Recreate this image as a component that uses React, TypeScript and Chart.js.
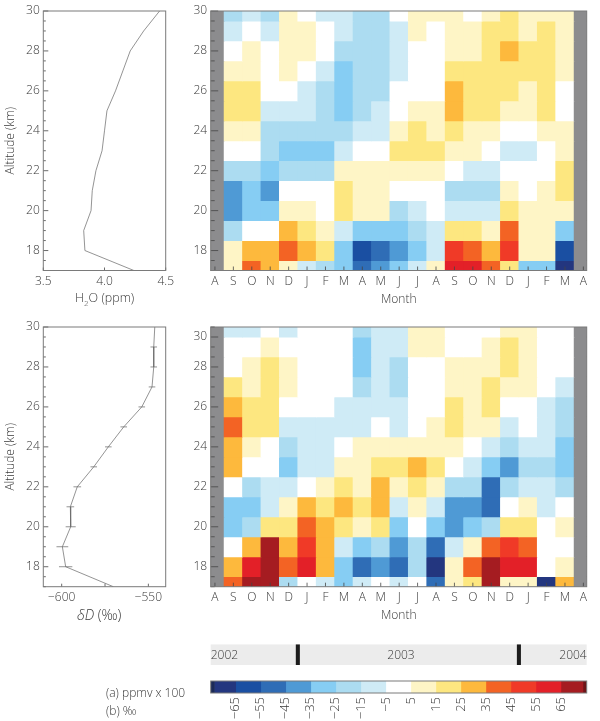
import React, { useEffect, useRef } from "react";
import { Chart, registerables } from "chart.js";

Chart.register(...registerables);

const months = ["A", "S", "O", "N", "D", "J", "F", "M", "A", "M", "J", "J", "A", "S", "O", "N", "D", "J", "F", "M", "A"];
const altitudes = [30, 29, 28, 27, 26, 25, 24, 23, 22, 21, 20, 19, 18, 17];

const h2oGrid = [
  [-20, -10, -20, 10, 0, -10, -10, -20, -20, 0, 10, 10, 10, 0, 10, 20, 10, 10, 10],
  [-10, 0, -10, 10, 10, 0, -10, -20, -20, -10, 10, 0, 10, 10, 20, 20, 10, 20, 10],
  [0, 10, 0, 10, 10, 0, -20, -20, -20, -10, 0, 0, 10, 10, 20, 30, 20, 20, 10],
  [10, 10, 0, 10, 0, -10, -30, -20, -20, -10, 0, 0, 20, 20, 20, 20, 20, 20, 10],
  [20, 20, 0, 0, -10, -20, -30, -20, -20, 0, 0, 0, 30, 20, 20, 20, 10, 20, 0],
  [20, 20, -10, -10, -10, -20, -30, -20, -10, 0, 10, 10, 30, 20, 20, 10, 10, 20, 0],
  [10, 10, -20, -20, -20, -20, -20, -10, -10, 10, 20, 10, 20, 10, 10, 0, 0, 10, 10],
  [0, 0, -20, -30, -30, -30, -10, 0, 0, 20, 20, 20, 10, 10, 0, -10, -10, 0, 10],
  [-20, -20, -30, -20, -20, -20, 10, 10, 10, 10, 10, 10, 0, -10, -10, 0, 0, 0, 20],
  [-40, -30, -40, 0, 0, 0, 20, 10, 10, 0, 0, 0, -20, -20, -20, 10, 0, 10, 20],
  [-40, -30, -30, 10, 10, 0, 20, 10, 10, -20, -10, 0, -10, -10, -10, 20, 10, 10, 10],
  [-20, 0, 0, 30, 20, 10, -10, -30, -30, -30, -20, -10, 20, 20, 10, 40, 10, 10, -30],
  [10, 30, 30, 40, 30, 20, -30, -60, -50, -40, -30, -10, 50, 40, 30, 50, 10, 10, -60],
  [10, 40, 30, 10, -10, -20, -30, -50, -40, -30, -10, 10, 60, 60, 40, 20, -30, -30, -70],
];

const deltaGrid = [
  [-10, -10, 0, -10, 0, 0, 0, -20, -10, -10, 10, 10, 0, 0, 0, 10, 10, 0, 0],
  [0, 0, 10, 0, 0, 0, 0, -30, -10, -10, 10, 10, 0, 0, 10, 20, 10, 0, 0],
  [0, 10, 20, 10, 0, 0, 0, -30, -10, -20, 0, 0, 10, 10, 10, 20, 10, 0, 0],
  [20, 10, 20, 10, 0, 0, 0, -20, -10, -20, 0, 0, 10, 10, 20, 10, 10, 0, -10],
  [30, 20, 20, 0, 0, 0, -10, -10, -10, -10, 0, 0, 20, 10, 20, 0, 0, -10, -20],
  [40, 20, 20, -10, -10, -10, -10, -10, 0, -10, 0, 10, 20, 10, 10, -10, 0, -10, -20],
  [30, 10, 0, -20, -10, -10, 0, 10, 10, 10, 10, 10, 10, 0, -10, -20, -10, -10, -30],
  [30, 0, 0, -30, -10, -10, 10, 10, 20, 20, 30, 20, 0, -10, -30, -40, -20, -20, -30],
  [0, -20, -10, -10, 0, 10, 20, 10, 30, 10, 20, 10, -20, -20, -50, -20, -10, -10, -20],
  [-30, -30, -10, 10, 30, 20, 30, 20, 30, -10, 10, -10, -40, -40, -50, 0, 10, -10, 0],
  [-30, -20, 20, 20, 40, 30, 20, 10, 20, -30, 0, -30, -40, -30, -20, 20, 20, 0, 10],
  [0, 30, 70, 30, 50, 30, -10, -30, -20, -40, -20, -50, -10, 10, 40, 50, 40, 0, 0],
  [30, 60, 70, 40, 60, 30, -30, -50, -40, -50, -20, -70, 10, 40, 70, 60, 60, 0, 10],
  [40, 70, 70, -20, 0, -10, -30, -10, 0, -10, 0, -50, 10, 20, 70, 10, 10, -70, 30],
];

const h2oProfile = [4.45, 4.32, 4.21, 4.15, 4.09, 4.02, 4.0, 3.98, 3.93, 3.9, 3.89, 3.83, 3.84, 4.24];
const deltaProfile = [-546.3, -546.9, -546.9, -547.9, -553.8, -564.2, -573.1, -581.5, -591, -595, -594.8, -599.6, -597.7, -570.2];
const deltaError = [0, 1.9, 1.9, 1.9, 1.9, 1.9, 1.9, 1.9, 2.2, 2.2, 2.9, 3.4, 3.85, 0];

const colorEdges = [-75, -73.5, -65, -55, -45, -35, -25, -15, -5, 5, 15, 25, 35, 45, 55, 65, 73.8, 75.3];
const colorSteps = ["#1b2a58", "#23367f", "#1a4fa2", "#2f6db6", "#4f9ad5", "#86cdf3", "#acdcf1", "#cfebf6", "#ffffff", "#fef5c6", "#fde780", "#fdb93d", "#f36324", "#f03a27", "#e32028", "#a51c21", "#6d1518"];
const colorTicks = [-65, -55, -45, -35, -25, -15, -5, 5, 15, 25, 35, 45, 55, 65];

const years = ["2002", "2003", "2004"];
const yearEdges = [-1, 4.5, 16.5, 21];
const yearLabelAt = [-0.23, 10.1, 20.18];

const FONT = "'Open Sans', sans-serif";
const TEXT = "#383838";
const FRAME = "#7a7a7a";
const MISSING = "#8c8c8e";
const MONTH_MIN = -0.23;
const MONTH_MAX = 20.18;

const tickFont = { family: FONT, size: 12, weight: "300" as any };
const minus = (v: number) => String(v).replace("-", "\u2212");
const colorOf = (v: number | null) => {
  if (v === null) return MISSING;
  for (let i = 0; i < colorSteps.length; i++) if (v >= colorEdges[i] && v < colorEdges[i + 1]) return colorSteps[i];
  return MISSING;
};

const panelPlugin = {
  id: "panel",
  afterDatasetsDraw(chart: any, _a: any, o: any) {
    if (!o.on) return;
    const { ctx, chartArea: a, scales } = chart;
    ctx.save();
    ctx.strokeStyle = "#454545";
    ctx.lineWidth = 0.8;
    if (o.major) {
      scales.y.ticks.forEach((t: any) => {
        const p = scales.y.getPixelForValue(t.value);
        const l = t.label ? o.major : o.minor;
        ctx.beginPath();
        ctx.moveTo(a.left, p);
        ctx.lineTo(a.left + l, p);
        ctx.stroke();
      });
    }
    if (o.xLen) {
      scales.x.ticks.forEach((t: any) => {
        const p = scales.x.getPixelForValue(t.value);
        ctx.beginPath();
        ctx.moveTo(p, a.bottom);
        ctx.lineTo(p, a.bottom - o.xLen);
        ctx.stroke();
      });
    }
    ctx.strokeStyle = FRAME;
    ctx.lineWidth = 1;
    ctx.strokeRect(a.left, a.top, a.right - a.left, a.bottom - a.top);
    ctx.restore();
  },
};

const yearPlugin = {
  id: "yearText",
  afterDatasetsDraw(chart: any, _a: any, o: any) {
    if (!o.on) return;
    const { ctx, chartArea: a, scales } = chart;
    ctx.save();
    ctx.fillStyle = TEXT;
    ctx.font = `300 12px ${FONT}`;
    ctx.textBaseline = "middle";
    const aligns = ["left", "center", "right"];
    years.forEach((y, i) => {
      ctx.textAlign = aligns[i];
      ctx.fillText(y, scales.x.getPixelForValue(yearLabelAt[i]), (a.top + a.bottom) / 2 + 0.5);
    });
    ctx.restore();
  },
};

type Box = { l: number; r: number; t: number; b: number; axis: number };

const altitudeTicks: number[] = [];
for (let v = 17; v <= 30; v += 0.5) altitudeTicks.push(v);

function frame(box: Box) {
  return {
    responsive: false,
    animation: false as const,
    events: [] as any[],
    layout: { padding: { left: 0, right: 600 - box.r, top: box.t, bottom: 721 - box.b - box.axis } },
  };
}

function altitudeScale(box: Box, labels: Record<string, string>, title?: string) {
  return {
    type: "linear",
    min: 17,
    max: 30,
    afterBuildTicks: (s: any) => { s.ticks = altitudeTicks.map((value) => ({ value })); },
    afterFit: (s: any) => { s.width = box.l; },
    grid: { display: false, drawTicks: false },
    border: { display: false },
    ticks: {
      autoSkip: false,
      padding: 3.5,
      color: TEXT,
      font: tickFont,
      callback: (v: number) => labels[String(v)] ?? "",
    },
    title: title
      ? { display: true, text: title, color: TEXT, font: tickFont, padding: { top: 3.5, bottom: 0 } }
      : { display: false },
  };
}

function bottomScale(box: Box, min: number, max: number, tickVals: number[], label: (v: number) => string, title?: string) {
  return {
    type: "linear",
    offset: false,
    min,
    max,
    afterBuildTicks: (s: any) => { s.ticks = tickVals.map((value) => ({ value })); },
    afterFit: (s: any) => { s.height = box.axis; },
    grid: { display: false, drawTicks: false, offset: false },
    border: { display: false },
    ticks: { autoSkip: false, maxRotation: 0, padding: 3.5, color: TEXT, font: tickFont, callback: label },
    title: title
      ? { display: true, text: title, color: TEXT, font: tickFont, padding: { top: 0, bottom: 0 } }
      : { display: false },
  };
}

const plainLabels: Record<string, string> = { 18: "18", 20: "20", 22: "22", 24: "24", 26: "26", 28: "28", 30: "30" };
const shiftedLabels: Record<string, string> = { 18: "18", 20: "20", 22: "22", 24: "24", 26: "26", 28: "28", 29.5: "30" };

function heatConfig(grid: number[][], box: Box, labels: Record<string, string>) {
  const datasets = altitudes.map((alt, r) => {
    const row: (number | null)[] = [null, ...grid[r], null];
    return {
      data: row.map((_, i) => ({ x: i, y: [alt - 0.5, alt + 0.5] })),
      backgroundColor: row.map(colorOf),
      borderWidth: 0,
      grouped: false,
      categoryPercentage: 1,
      barPercentage: 1,
      inflateAmount: 0.4,
    };
  });
  return {
    type: "bar",
    data: { datasets },
    plugins: [panelPlugin],
    options: {
      ...frame(box),
      plugins: { legend: { display: false }, tooltip: { enabled: false }, panel: { on: true, major: 7.5, minor: 4, xLen: 4 } },
      scales: {
        x: bottomScale(box, MONTH_MIN, MONTH_MAX, months.map((_, i) => i), (v) => months[v], "Month"),
        y: altitudeScale(box, labels),
      },
    },
  };
}

function profileConfig(values: number[], errors: number[] | null, box: Box, xMin: number, xMax: number, xTicks: number[], xLabel: (v: number) => string, title?: string) {
  const datasets: any[] = [
    {
      type: "line",
      data: values.map((x, i) => ({ x, y: altitudes[i] })),
      borderColor: "#666666",
      borderWidth: 0.7,
      pointRadius: 0,
      tension: 0,
    },
  ];
  if (errors) {
    errors.forEach((e, i) => {
      if (!e) return;
      datasets.push({
        type: "line",
        data: [{ x: values[i] - e, y: altitudes[i] }, { x: values[i] + e, y: altitudes[i] }],
        borderColor: "#777777",
        borderWidth: 0.8,
        pointRadius: 0,
      });
    });
  }
  return {
    type: "line",
    data: { datasets },
    plugins: [panelPlugin],
    options: {
      ...frame(box),
      plugins: { legend: { display: false }, tooltip: { enabled: false }, panel: { on: true, major: 5, minor: 2.5, xLen: 3 } },
      scales: {
        x: bottomScale(box, xMin, xMax, xTicks, xLabel, title),
        y: altitudeScale(box, plainLabels, "Altitude (km)"),
      },
    },
  };
}

const barBox: Box = { l: 210.7, r: 586.7, t: 681, b: 693, axis: 28 };
const yearBox: Box = { l: 210.7, r: 586.7, t: 644.3, b: 665, axis: 0 };

function yearConfig() {
  const spans = years.map((_, i) => ({
    data: [[yearEdges[i], yearEdges[i + 1]]],
    backgroundColor: "#ececec",
    borderWidth: 0,
    grouped: false,
    categoryPercentage: 1,
    barPercentage: 1,
    inflateAmount: 0,
  }));
  const dividers = [yearEdges[1], yearEdges[2]].map((m) => ({
    data: [[m - 0.11, m + 0.11]],
    backgroundColor: "#1c1c1c",
    borderWidth: 0,
    grouped: false,
    categoryPercentage: 1,
    barPercentage: 1,
    inflateAmount: 0,
    order: -1,
  }));
  return {
    type: "bar",
    data: { labels: ["years"], datasets: [...dividers, ...spans] },
    plugins: [yearPlugin],
    options: {
      responsive: false,
      animation: false,
      events: [],
      indexAxis: "y",
      layout: { padding: { left: yearBox.l, right: 600 - yearBox.r, top: yearBox.t, bottom: 721 - yearBox.b } },
      plugins: { legend: { display: false }, tooltip: { enabled: false }, yearText: { on: true } },
      scales: {
        x: { type: "linear", min: MONTH_MIN, max: MONTH_MAX, display: false },
        y: { type: "category", display: false },
      },
    },
  };
}

function colorbarConfig() {
  const datasets = colorSteps.map((c, i) => ({
    data: [[colorEdges[i], colorEdges[i + 1]]],
    backgroundColor: c,
    borderWidth: 0,
    grouped: false,
    categoryPercentage: 1,
    barPercentage: 1,
    inflateAmount: 0.3,
  }));
  return {
    type: "bar",
    data: { labels: ["scale"], datasets },
    plugins: [panelPlugin],
    options: {
      responsive: false,
      animation: false,
      events: [],
      indexAxis: "y",
      layout: { padding: { left: barBox.l, right: 600 - barBox.r, top: barBox.t, bottom: 721 - barBox.b - barBox.axis } },
      plugins: { legend: { display: false }, tooltip: { enabled: false }, panel: { on: true, major: 0, minor: 0, xLen: 0 } },
      scales: {
        x: {
          type: "linear",
          min: -75,
          max: 75.3,
          afterBuildTicks: (s: any) => { s.ticks = colorTicks.map((value) => ({ value })); },
          afterFit: (s: any) => { s.height = barBox.axis; },
          grid: { display: false, drawTicks: false },
          border: { display: false },
          ticks: { autoSkip: false, minRotation: 90, maxRotation: 90, padding: 4, color: TEXT, font: { ...tickFont, size: 13 }, callback: (v: number) => minus(v) },
        },
        y: { type: "category", display: false },
      },
    },
  };
}

const boxes = {
  a: { l: 43.3, r: 165.7, t: 11, b: 270.5, axis: 36 } as Box,
  b: { l: 210.7, r: 586.7, t: 11, b: 270.5, axis: 36 } as Box,
  c: { l: 43.3, r: 165.7, t: 327, b: 586.7, axis: 36 } as Box,
  d: { l: 210.7, r: 586.7, t: 327, b: 586.7, axis: 36 } as Box,
};

const configs = [
  profileConfig(h2oProfile, null, boxes.a, 3.5, 4.5, [3.5, 4, 4.5], (v) => v.toFixed(1)),
  heatConfig(h2oGrid, boxes.b, plainLabels),
  profileConfig(deltaProfile, deltaError, boxes.c, -610.6, -540, [-600, -575, -550], (v) => (v === -575 ? "" : minus(v))),
  heatConfig(deltaGrid, boxes.d, shiftedLabels),
  yearConfig(),
  colorbarConfig(),
];

const textStyle: React.CSSProperties = {
  position: "absolute",
  fontFamily: FONT,
  fontWeight: 300,
  fontSize: 12,
  lineHeight: "14px",
  color: TEXT,
  whiteSpace: "nowrap",
};

export default function App() {
  const refs = useRef<(HTMLCanvasElement | null)[]>([]);
  useEffect(() => {
    const charts = configs.map((c, i) => new Chart(refs.current[i] as HTMLCanvasElement, c as any));
    return () => charts.forEach((c) => c.destroy());
  }, []);
  return (
    <div style={{ position: "absolute", left: 0, top: 0, width: 600, height: 721, overflow: "hidden", background: "#fff" }}>
      {configs.map((_, i) => (
        <canvas
          key={i}
          ref={(el) => { refs.current[i] = el; }}
          width={600}
          height={721}
          style={{ position: "absolute", left: 0, top: 0, width: 600, height: 721, display: "block" }}
        />
      ))}
      <div style={{ ...textStyle, left: 75, top: 291, fontSize: 12.5 }}>
        H<sub style={{ fontSize: 8, lineHeight: 0 }}>2</sub>O (ppm)
      </div>
      <div style={{ ...textStyle, left: 77, top: 608, fontSize: 14 }}>
        <i>δD</i> (‰)
      </div>
      <div style={{ ...textStyle, left: 106, top: 686 }}>(a) ppmv x 100</div>
      <div style={{ ...textStyle, left: 106, top: 704 }}>(b) ‰</div>
    </div>
  );
}
